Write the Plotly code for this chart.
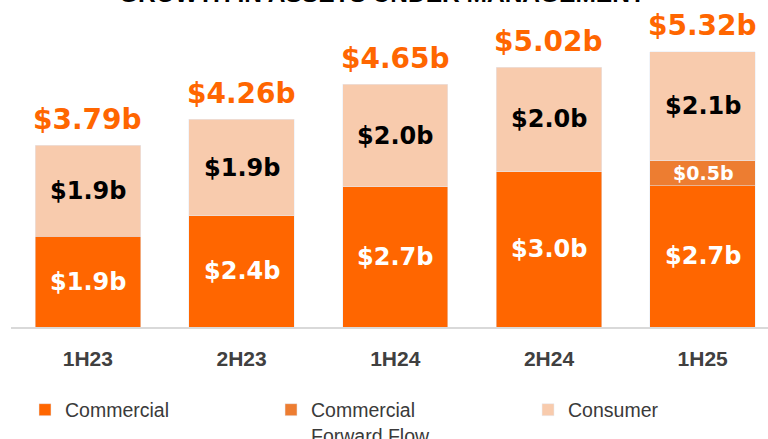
import plotly.graph_objects as go

categories = ["1H23", "2H23", "1H24", "2H24", "1H25"]
commercial = [1.75, 2.15, 2.71, 3.00, 2.73]
forward_flow = [None, None, None, None, 0.48]
consumer = [1.76, 1.86, 1.98, 2.02, 2.11]
commercial_labels = ["$1.9b", "$2.4b", "$2.7b", "$3.0b", "$2.7b"]
forward_flow_labels = [None, None, None, None, "$0.5b"]
consumer_labels = ["$1.9b", "$1.9b", "$2.0b", "$2.0b", "$2.1b"]
total_labels = ["$3.79b", "$4.26b", "$4.65b", "$5.02b", "$5.32b"]

C_COM = "#FF6600"
C_FF = "#ED7D31"
C_CON = "#F8CBAD"
LABEL_FONT = "DejaVu Sans"

fig = go.Figure()
fig.add_trace(go.Bar(x=categories, y=commercial, name="Commercial", marker_color=C_COM,
                     legend="legend", hoverinfo="skip"))
fig.add_trace(go.Bar(x=categories, y=forward_flow, name="Commercial<br>Forward Flow",
                     marker_color=C_FF, legend="legend2", hoverinfo="skip"))
fig.add_trace(go.Bar(x=categories, y=consumer, name="Consumer", marker_color=C_CON,
                     legend="legend3", hoverinfo="skip"))

annotations = []
for i, cat in enumerate(categories):
    base = 0.0
    c = commercial[i]
    annotations.append(dict(x=cat, y=base + c / 2, text=commercial_labels[i], showarrow=False,
                            font=dict(family=LABEL_FONT, size=24, color="white", weight="bold")))
    base += c
    if forward_flow[i]:
        f = forward_flow[i]
        annotations.append(dict(x=cat, y=base + f / 2, text=forward_flow_labels[i], showarrow=False,
                                font=dict(family=LABEL_FONT, size=19, color="white", weight="bold")))
        base += f
    k = consumer[i]
    annotations.append(dict(x=cat, y=base + k / 2, text=consumer_labels[i], showarrow=False,
                            font=dict(family=LABEL_FONT, size=24, color="black", weight="bold")))
    base += k
    annotations.append(dict(x=cat, y=base, text=total_labels[i], showarrow=False, yanchor="middle",
                            yshift=26,
                            font=dict(family=LABEL_FONT, size=28, color=C_COM, weight="bold")))

annotations.append(dict(xref="paper", yref="paper", x=0.49, y=1, xanchor="center", yanchor="bottom",
                        yshift=-9, showarrow=False, text="GROWTH IN ASSETS UNDER MANAGEMENT",
                        font=dict(family="Liberation Sans", size=24.5, color="black", weight="bold")))

legend_common = dict(orientation="v", yanchor="top", xanchor="left", valign="top",
                     font=dict(family="Liberation Sans", size=19.5, color="#3a3a3a"),
                     bgcolor="rgba(0,0,0,0)", borderwidth=0)

LEG_Y = 0.1105
fig.update_layout(
    width=768, height=439,
    margin=dict(l=11, r=0, t=0, b=0, autoexpand=False),
    paper_bgcolor="white", plot_bgcolor="white",
    barmode="stack", bargap=0.314,
    showlegend=True,
    legend=dict(x=0.0185, y=LEG_Y, **legend_common),
    legend2=dict(x=0.3435, y=LEG_Y, **legend_common),
    legend3=dict(x=0.683, y=LEG_Y, **legend_common),
    xaxis=dict(range=[-0.5, 4.425], showline=True, linecolor="#d9d9d9", linewidth=2,
               ticks="", showgrid=False, zeroline=False, ticklabelstandoff=12,
               tickfont=dict(family="Liberation Sans", size=21, color="#404040", weight="bold")),
    yaxis=dict(range=[0, 6.319], domain=[112 / 439, 1], visible=False, showgrid=False,
               zeroline=False),
    annotations=annotations,
)

fig.write_html("out.html", config={"displayModeBar": False},
               post_script="document.body.style.margin='0';")
